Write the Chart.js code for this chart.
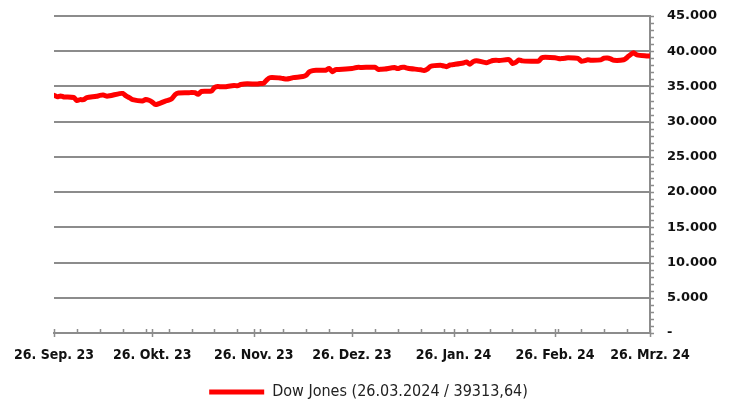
<!DOCTYPE html>
<html>
<head>
<meta charset="utf-8">
<script src="https://cdn.jsdelivr.net/npm/chart.js@4"></script>
<style>
  body { margin: 0; background: #fff; }
  canvas { display: block; }
</style>
</head>
<body>
<canvas id="dowChart" width="730" height="400"></canvas>
<script>
/*---- Dow Jones, 6 Monate ----- */

var dates = [
  "2023-09-26","2023-09-27","2023-09-28","2023-09-29","2023-10-02","2023-10-03","2023-10-04","2023-10-05","2023-10-06",
  "2023-10-09","2023-10-10","2023-10-11","2023-10-12","2023-10-13","2023-10-16","2023-10-17","2023-10-18","2023-10-19",
  "2023-10-20","2023-10-23","2023-10-24","2023-10-25","2023-10-26","2023-10-27","2023-10-30","2023-10-31","2023-11-01",
  "2023-11-02","2023-11-03","2023-11-06","2023-11-07","2023-11-08","2023-11-09","2023-11-10","2023-11-13","2023-11-14",
  "2023-11-15","2023-11-16","2023-11-17","2023-11-20","2023-11-21","2023-11-22","2023-11-24","2023-11-27","2023-11-28",
  "2023-11-29","2023-11-30","2023-12-01","2023-12-04","2023-12-05","2023-12-06","2023-12-07","2023-12-08","2023-12-11",
  "2023-12-12","2023-12-13","2023-12-14","2023-12-15","2023-12-18","2023-12-19","2023-12-20","2023-12-21","2023-12-22",
  "2023-12-26","2023-12-27","2023-12-28","2023-12-29","2024-01-02","2024-01-03","2024-01-04","2024-01-05","2024-01-08",
  "2024-01-09","2024-01-10","2024-01-11","2024-01-12","2024-01-16","2024-01-17","2024-01-18","2024-01-19","2024-01-22",
  "2024-01-23","2024-01-24","2024-01-25","2024-01-26","2024-01-29","2024-01-30","2024-01-31","2024-02-01","2024-02-02",
  "2024-02-05","2024-02-06","2024-02-07","2024-02-08","2024-02-09","2024-02-12","2024-02-13","2024-02-14","2024-02-15",
  "2024-02-16","2024-02-20","2024-02-21","2024-02-22","2024-02-23","2024-02-26","2024-02-27","2024-02-28","2024-02-29",
  "2024-03-01","2024-03-04","2024-03-05","2024-03-06","2024-03-07","2024-03-08","2024-03-11","2024-03-12","2024-03-13",
  "2024-03-14","2024-03-15","2024-03-18","2024-03-19","2024-03-20","2024-03-21","2024-03-22","2024-03-25","2024-03-26"
];

var dowValues = [
  33750,33550,33660,33510,33430,33000,33130,33120,33410,
  33600,33740,33800,33630,33670,33980,34000,33670,33410,
  33130,32940,33140,33040,32780,32420,32930,33050,33270,
  33840,34060,34100,34150,34110,33890,34280,34340,34830,
  34990,34950,34950,35150,35090,35270,35390,35330,35420,
  35430,35950,36250,36200,36120,36050,36120,36250,36400,
  36580,37090,37250,37310,37310,37560,37080,37400,37390,
  37550,37660,37710,37690,37720,37430,37440,37470,37680,
  37530,37700,37710,37590,37360,37270,37470,37860,38000,
  37910,37810,38050,38110,38330,38470,38150,38520,38650,
  38380,38520,38680,38730,38670,38800,38270,38420,38770,
  38630,38560,38610,39070,39130,39070,38970,38950,39000,
  39090,38990,38590,38660,38790,38720,38770,39010,39040,
  38910,38710,38790,39110,39510,39780,39480,39330,39313.64
];

var tickDates = ["2023-09-26","2023-10-26","2023-11-26","2023-12-26","2024-01-26","2024-02-26","2024-03-26"];
var tickLabels = ["26. Sep. 23","26. Okt. 23","26. Nov. 23","26. Dez. 23","26. Jan. 24","26. Feb. 24","26. Mrz. 24"];

var seriesLabel = "Dow Jones (26.03.2024 / 39313,64)";

function dayOf(s) {
  var p = s.split("-");
  var t0 = Date.UTC(2023, 8, 26);
  return Math.round((Date.UTC(+p[0], +p[1] - 1, +p[2]) - t0) / 864e5);
}

var points = dates.map(function (d, i) { return { x: dayOf(d), y: dowValues[i] }; });
var tickDays = tickDates.map(dayOf);
var lastDay = tickDays[tickDays.length - 1];

var grey = "#8c8c8c";

// kleine Striche an beiden Achsen
var tickMarks = {
  id: "tickMarks",
  afterDraw: function (chart) {
    var c = chart.ctx, xs = chart.scales.x, ys = chart.scales.y;
    var a = chart.chartArea;
    c.save();
    c.strokeStyle = grey;
    c.lineWidth = 1.5;
    c.beginPath();
    for (var d = 0; d <= lastDay; d += 7) {
      var px = Math.round(xs.getPixelForValue(d)) + 0.5;
      c.moveTo(px, a.bottom - 4);
      c.lineTo(px, a.bottom);
    }
    tickDays.forEach(function (d) {
      var px = Math.round(xs.getPixelForValue(d)) + 0.5;
      c.moveTo(px, a.bottom - 4);
      c.lineTo(px, a.bottom + 4);
    });
    for (var v = 0; v <= 45000; v += 1000) {
      var py = Math.round(ys.getPixelForValue(v)) + 0.5;
      c.moveTo(a.right, py);
      c.lineTo(a.right + 4, py);
    }
    c.stroke();
    c.restore();
  }
};

var ctx = document.getElementById("dowChart").getContext("2d");
var dowChart = new Chart(ctx, {
  type: "line",
  data: {
    datasets: [{
      label: seriesLabel,
      data: points,
      borderColor: "#ff0000",
      backgroundColor: "#ff0000",
      borderWidth: 5,
      pointRadius: 0,
      pointStyle: "line",
      tension: 0.25,
      borderCapStyle: "round",
      borderJoinStyle: "round"
    }]
  },
  options: {
    responsive: false,
    animation: false,
    layout: { padding: { left: 7, top: 16, right: 0, bottom: -10 } },
    plugins: {
      tooltip: { enabled: false },
      legend: {
        position: "bottom",
        labels: {
          usePointStyle: true,
          pointStyleWidth: 55,
          padding: 4,
          color: "#222",
          font: { family: "'DejaVu Sans Condensed', 'DejaVu Sans'", size: 16 }
        }
      }
    },
    scales: {
      x: {
        type: "linear",
        min: 0,
        max: lastDay,
        afterBuildTicks: function (scale) {
          scale.ticks = tickDays.map(function (d) { return { value: d }; });
        },
        afterFit: function (scale) {
          scale.height = 47;
          scale.paddingLeft = 54;
        },
        ticks: {
          autoSkip: false,
          maxRotation: 0,
          padding: 14,
          color: "#111",
          font: { family: "'DejaVu Sans Condensed', 'DejaVu Sans'", size: 14, weight: "bold" },
          callback: function (v, i) { return tickLabels[i]; }
        },
        grid: { display: true, drawOnChartArea: false, drawTicks: false },
        border: { display: true, color: grey, width: 2 }
      },
      y: {
        position: "right",
        min: 0,
        max: 45000,
        afterFit: function (scale) {
          scale.width = 80;
          scale.paddingTop = 0;
          scale.paddingBottom = 0;
        },
        ticks: {
          stepSize: 5000,
          padding: 17,
          color: "#111",
          font: { family: "'DejaVu Sans'", size: 13, weight: "bold" },
          callback: function (v) {
            return v === 0 ? "-" : String(v).replace(/\B(?=(\d{3})+(?!\d))/g, ".");
          }
        },
        grid: { color: grey, lineWidth: 2, drawTicks: false },
        border: { display: true, color: grey, width: 2 }
      }
    }
  },
  plugins: [tickMarks]
});
</script>
</body>
</html>
